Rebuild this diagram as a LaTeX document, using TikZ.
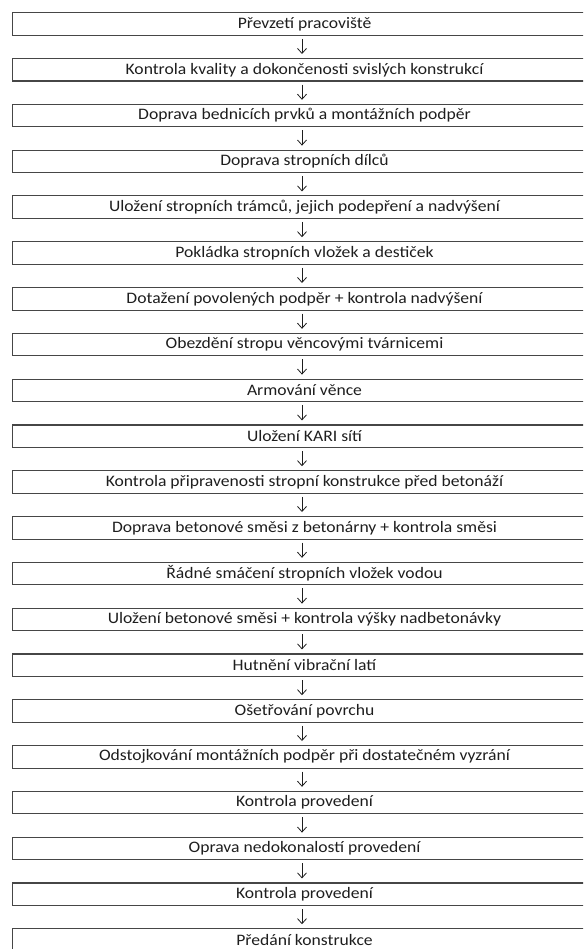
\documentclass[tikz,border=0pt]{standalone}
\usepackage{fontspec}
\setmainfont{Carlito}[FakeStretch=1.1]
\usetikzlibrary{arrows.meta,positioning}
\definecolor{boxgray}{RGB}{70,70,70}
\definecolor{txtgray}{RGB}{30,30,30}

\tikzset{
    stepbox/.style={draw=boxgray,line width=1.1pt,minimum width=584pt,minimum height=22.5pt,
        inner sep=0pt,text=txtgray,font=\fontsize{16}{18}\selectfont},
    downarrow/.style={-{Straight Barb[length=5pt,width=9pt]},line width=0.8pt,txtgray,
        shorten <=3pt,shorten >=4pt}
}

\begin{document}
\begin{tikzpicture}[x=1pt,y=1pt]
    \useasboundingbox (0,0) rectangle (583,-949);
    \clip (0,0) rectangle (583,-949);
    % Steps of the slab work
    \foreach \txt [count=\i] in {
        Převzetí pracoviště,
        Kontrola kvality a dokončenosti svislých konstrukcí,
        Doprava bednicích prvků a montážních podpěr,
        Doprava stropních dílců,
        {Uložení stropních trámců, jejich podepření a nadvýšení},
        Pokládka stropních vložek a destiček,
        Dotažení povolených podpěr + kontrola nadvýšení,
        Obezdění stropu věncovými tvárnicemi,
        Armování věnce,
        Uložení KARI sítí,
        Kontrola připravenosti stropní konstrukce před betonáží,
        Doprava betonové směsi z betonárny + kontrola směsi,
        Řádné smáčení stropních vložek vodou,
        Uložení betonové směsi + kontrola výšky nadbetonávky,
        Hutnění vibrační latí,
        Ošetřování povrchu,
        Odstojkování montážních podpěr při dostatečném vyzrání,
        Kontrola provedení,
        Oprava nedokonalostí provedení,
        Kontrola provedení,
        Předání konstrukce} {
        \node[stepbox] (s\i) at (304.5,{-24-45.8*(\i-1)}) {\txt};
    }
    % Arrows between the steps
    \foreach \i [evaluate=\i as \j using int(\i+1)] in {1,...,20} {
        \draw[downarrow] (s\i.south -| 302,0) -- (s\j.north -| 302,0);
    }
\end{tikzpicture}
\end{document}
